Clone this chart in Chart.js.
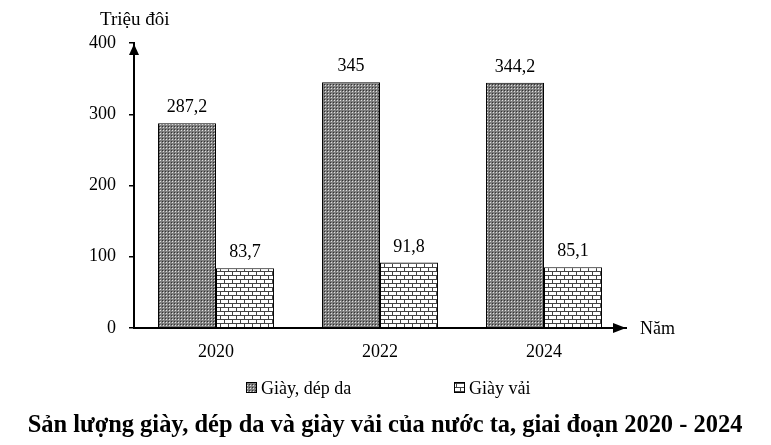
<!DOCTYPE html>
<html>
<head>
<meta charset="utf-8">
<style>
  html, body { margin: 0; padding: 0; background: #fff; }
</style>
<script src="https://cdn.jsdelivr.net/npm/chart.js@4.4.1/dist/chart.umd.min.js"></script>
</head>
<body>
<canvas id="chart" width="771" height="445"></canvas>
<script>
const years = ['2020', '2022', '2024'];
const leatherShoes = [287.2, 345, 344.2];
const clothShoes = [83.7, 91.8, 85.1];
const yTicks = [0, 100, 200, 300, 400];
const seriesNames = ['Giày, dép da', 'Giày vải'];
const yAxisTitle = 'Triệu đôi';
const xAxisTitle = 'Năm';
const chartTitle = 'Sản lượng giày, dép da và giày vải của nước ta, giai đoạn 2020 - 2024';

const FONT = "'Liberation Serif', 'Times New Roman', serif";
const canvas = document.getElementById('chart');
const ctx = canvas.getContext('2d');

function makePattern(w, h, draw) {
  const c = document.createElement('canvas');
  c.width = w;
  c.height = h;
  draw(c.getContext('2d'));
  return ctx.createPattern(c, 'repeat');
}

// fine dotted grey fill
const dotPattern = makePattern(3, 3, g => {
  g.fillStyle = '#7e7e7e';
  g.fillRect(0, 0, 3, 3);
  g.fillStyle = '#333';
  g.fillRect(0, 0, 1, 1);
  g.fillStyle = '#e0e0e0';
  g.fillRect(1, 1, 1, 1);
});

// brick fill
const brickPattern = makePattern(8, 8, g => {
  g.fillStyle = '#fff';
  g.fillRect(0, 0, 8, 8);
  g.fillStyle = '#444';
  g.fillRect(0, 3, 8, 1);
  g.fillRect(0, 7, 8, 1);
  g.fillRect(0, 0, 1, 3);
  g.fillRect(4, 4, 1, 3);
});

// arrows, axis names, value labels, legend and title
const decorations = {
  id: 'decorations',
  afterDraw(chart) {
    const { ctx, chartArea: { left, right, top, bottom } } = chart;
    ctx.save();
    ctx.fillStyle = '#000';

    // y arrow
    ctx.beginPath();
    ctx.moveTo(left, top + 1);
    ctx.lineTo(left - 5, top + 12);
    ctx.lineTo(left + 5, top + 12);
    ctx.closePath();
    ctx.fill();

    // x arrow
    ctx.beginPath();
    ctx.moveTo(right, bottom);
    ctx.lineTo(right - 13, bottom - 5);
    ctx.lineTo(right - 13, bottom + 5);
    ctx.closePath();
    ctx.fill();

    ctx.textBaseline = 'alphabetic';
    ctx.textAlign = 'left';
    ctx.font = `19px ${FONT}`;
    ctx.fillText(yAxisTitle, 100, 25);
    ctx.font = `18px ${FONT}`;
    ctx.fillText(xAxisTitle, 640, 334);

    // value labels
    ctx.textAlign = 'center';
    chart.data.datasets.forEach((ds, i) => {
      chart.getDatasetMeta(i).data.forEach((bar, j) => {
        ctx.fillText(String(ds.data[j]).replace('.', ','), bar.x, bar.y - 11);
      });
    });

    // legend
    const legendX = [246, 454];
    ctx.textAlign = 'left';
    chart.data.datasets.forEach((ds, i) => {
      ctx.fillStyle = ds.backgroundColor;
      ctx.fillRect(legendX[i], 382, 11, 11);
      ctx.strokeStyle = '#000';
      ctx.lineWidth = 1;
      ctx.strokeRect(legendX[i] + 0.5, 382.5, 10, 10);
      ctx.fillStyle = '#000';
      ctx.fillText(ds.label, legendX[i] + 15, 394);
    });

    // title
    let size = 22;
    ctx.font = `bold ${size}px ${FONT}`;
    size = size * 715 / ctx.measureText(chartTitle).width;
    ctx.font = `bold ${size.toFixed(2)}px ${FONT}`;
    ctx.textAlign = 'center';
    ctx.fillText(chartTitle, 385, 432);

    ctx.restore();
  }
};

new Chart(ctx, {
  type: 'bar',
  data: {
    labels: years,
    datasets: [
      { label: seriesNames[0], data: leatherShoes, backgroundColor: dotPattern, borderColor: '#000', borderWidth: 1 },
      { label: seriesNames[1], data: clothShoes, backgroundColor: brickPattern, borderColor: '#000', borderWidth: 1 }
    ]
  },
  options: {
    responsive: false,
    animation: false,
    devicePixelRatio: 1,
    layout: { padding: { top: 43, right: 145, left: 0, bottom: 0 } },
    datasets: { bar: { categoryPercentage: 0.707, barPercentage: 1 } },
    plugins: {
      legend: { display: false },
      title: { display: false },
      tooltip: { enabled: false }
    },
    scales: {
      x: {
        grid: { display: false, drawTicks: false },
        border: { display: true, color: '#000', width: 2 },
        ticks: { color: '#000', font: { family: FONT, size: 18 }, padding: 13 },
        afterFit: s => { s.height = 117; }
      },
      y: {
        min: 0,
        max: 400,
        afterBuildTicks: s => { s.ticks = yTicks.map(v => ({ value: v })); },
        grid: { drawOnChartArea: false, drawTicks: true, tickLength: 5, color: '#000', lineWidth: 1.5 },
        border: { display: true, color: '#000', width: 2 },
        ticks: { color: '#000', font: { family: FONT, size: 18 }, padding: 13 },
        afterFit: s => { s.width = 134; }
      }
    }
  },
  plugins: [decorations]
});
</script>
</body>
</html>
